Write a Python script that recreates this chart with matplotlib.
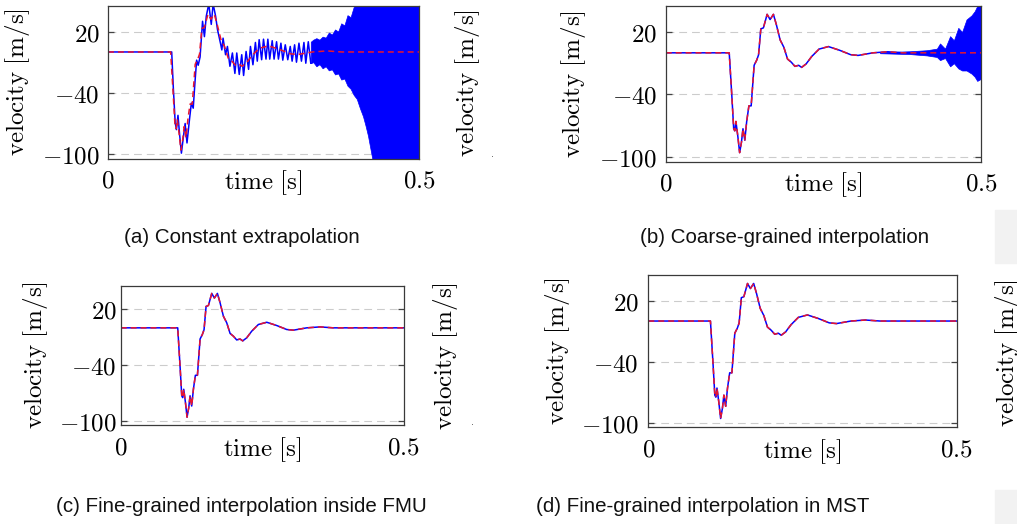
import matplotlib
matplotlib.use('Agg')
import matplotlib.pyplot as plt
from matplotlib.patches import Rectangle

plt.rcParams['mathtext.fontset'] = 'cm'

# reference solution (red dashed)
ref_t = [0, 0.1007, 0.1048, 0.1078, 0.1095, 0.1113, 0.1143, 0.1172, 0.1201, 0.1225,
         0.1254, 0.1284, 0.1319, 0.1355, 0.1402, 0.1443, 0.1472, 0.1508, 0.1549, 0.1608,
         0.1655, 0.1708, 0.1755, 0.1814, 0.1873, 0.1932, 0.1991, 0.2049, 0.2108, 0.2155,
         0.2226, 0.2314, 0.2432, 0.2580, 0.2756, 0.2933, 0.3051, 0.3286, 0.3522, 0.3757,
         0.4111, 0.5]
ref_v = [0, 0, -41, -73, -75, -66, -80, -96, -86, -73,
         -84, -66, -51, -51, -12, -7, -2, 23, 24, 37,
         32, 37, 27, 12.5, 5.4, -6, -9, -13, -12, -14,
         -10.7, -3.6, 3.6, 6, 2.5, -1.8, -2.5, 0, 1, 0,
         0, 0]

# (a) constant extrapolation: blue wiggles (peaks / troughs)
blue_a_t = [0, 0.1024, 0.105, 0.108, 0.110, 0.1125, 0.115, 0.118, 0.121, 0.124,
            0.127, 0.131, 0.134, 0.137, 0.140, 0.1425, 0.145, 0.148, 0.152, 0.155,
            0.158, 0.162, 0.166, 0.169, 0.173, 0.176, 0.181, 0.183, 0.185, 0.189,
            0.192, 0.196, 0.200, 0.204, 0.207, 0.211, 0.215, 0.218, 0.222, 0.226,
            0.229, 0.233, 0.237, 0.240, 0.243, 0.247, 0.250, 0.254, 0.257, 0.260,
            0.264, 0.267, 0.271, 0.274, 0.278, 0.281, 0.285, 0.289, 0.293, 0.296,
            0.300, 0.303, 0.307, 0.311, 0.315, 0.318, 0.322, 0.326]
blue_a_v = [0, 0, -35, -69, -76, -62, -80, -99, -84, -70,
            -89, -66, -50, -55, -28, -8, -13, -5, 30, 15,
            35, 47, 27, 47, 35, 22, 8, 2, 13.5, -2.7,
            5.4, -14, -1, -21, -1, -22, -2.7, -23, 0.5, -17,
            5.4, -12.5, 9.3, -9, 12, -7.6, 12.5, -7, 12.5, -7,
            11, -7, 10, -7, 8.6, -8, 7, -7.6, 5.4, -9,
            7, -10, 8.6, -9, 9.3, -11, 10, -11]
# (a) dense part: jagged envelope of the oscillation
env_a_t = [0.326, 0.330, 0.335, 0.340, 0.345, 0.350, 0.355, 0.360, 0.365, 0.370,
           0.375, 0.380, 0.385, 0.390, 0.395, 0.400, 0.405, 0.410, 0.414, 0.418,
           0.422, 0.426, 0.5]
env_a_hi = [10, 12, 13.5, 12, 15, 14, 19, 17, 22, 20,
            28, 26, 36, 34, 44, 47, 47, 47, 47, 47,
            47, 47, 47]
env_a_lo = [-11, -10, -14, -12, -16, -14, -18, -17, -22, -21,
            -27, -26, -33, -36, -42, -46, -55, -63, -72, -82,
            -95, -108, -108]

# (b) coarse-grained interpolation: growing band at the end
env_b_t = [0.340, 0.387, 0.414, 0.430, 0.435, 0.443, 0.451, 0.457, 0.464, 0.470,
           0.477, 0.485, 0.490, 0.494, 0.5]
env_b_hi = [0.6, 1.5, 2.5, 4, 9, 4, 16, 12, 24, 20, 32, 36, 40, 45, 47]
env_b_lo = [-0.4, -1.2, -2.5, -4, -7, -5, -13, -10, -15, -17, -17, -20, -23, -27, -25]

yticks = [-100, -40, 20]
ytick_labels = ['$-100$', '$-40$', '$20$']
xticks = [0, 0.5]
xtick_labels = ['$0$', '$0.5$']

captions = ['(a) Constant extrapolation', '(b) Coarse-grained interpolation',
            '(c) Fine-grained interpolation inside FMU', '(d) Fine-grained interpolation in MST']

BLUE = '#0000ff'
RED = '#e8162e'
FS = 18


def setup(ax, ypad, xlab_y, ylab_x):
    ax.set_xlim(0, 0.5)
    ax.set_ylim(-104.7, 45.3)
    ax.set_yticks(yticks)
    ax.set_yticklabels(ytick_labels, fontsize=FS)
    ax.set_xticks(xticks)
    ax.set_xticklabels(xtick_labels, fontsize=FS)
    ax.tick_params(axis='y', direction='in', length=4, width=0.9, color='#444444',
                   left=True, right=True, pad=ypad)
    ax.tick_params(axis='x', direction='in', length=0, pad=7)
    ax.yaxis.grid(True, color='#cccccc', lw=0.8, linestyle=(0, (7, 4.5)))
    ax.set_axisbelow(True)
    for s in ax.spines.values():
        s.set_color('#3a3a3a')
        s.set_linewidth(0.9)
    ax.set_xlabel(r'$\mathrm{time\ [s]}$', fontsize=FS)
    ax.xaxis.set_label_coords(0.5, xlab_y)
    ax.set_ylabel(r'$\mathrm{velocity\ [m/s]}$', fontsize=FS)
    ax.yaxis.set_label_coords(ylab_x, 0.5)


fig = plt.figure(figsize=(10.17, 5.24), dpi=100)

ax_a = fig.add_axes([0.1062, 0.6966, 0.3058, 0.2926])
ax_b = fig.add_axes([0.6546, 0.6914, 0.3100, 0.2977])
ax_c = fig.add_axes([0.1187, 0.1884, 0.2783, 0.2664])
ax_d = fig.add_axes([0.6375, 0.1845, 0.3032, 0.2906])

# (a)
ax_a.plot(blue_a_t, blue_a_v, color=BLUE, lw=1.1)
ax_a.fill_between(env_a_t, env_a_lo, env_a_hi, color=BLUE, lw=0.5)
ax_a.plot(ref_t, ref_v, color=RED, lw=1.1, linestyle=(0, (3.9, 2.6)))
setup(ax_a, 6, -0.059, -0.244)

# (b)
ax_b.plot(ref_t, ref_v, color=BLUE, lw=1.1)
ax_b.fill_between(env_b_t, env_b_lo, env_b_hi, color=BLUE, lw=0.5)
ax_b.plot(ref_t, ref_v, color=RED, lw=1.1, linestyle=(0, (3.9, 2.6)))
setup(ax_b, 6, -0.053, -0.246)

# (c)
ax_c.plot(ref_t, ref_v, color=BLUE, lw=1.1)
ax_c.plot(ref_t, ref_v, color=RED, lw=1.1, linestyle=(0, (3.9, 2.6)))
setup(ax_c, 3, -0.07, -0.25)

# (d)
ax_d.plot(ref_t, ref_v, color=BLUE, lw=1.1)
ax_d.plot(ref_t, ref_v, color=RED, lw=1.1, linestyle=(0, (3.9, 2.6)))
setup(ax_d, 7, -0.062, -0.247)

# captions
cap_font = dict(fontfamily='Liberation Sans', fontsize=14.8, ha='center', va='center',
                color='#111111')
fig.text(241.5 / 1017, 1 - 238 / 524, captions[0], **cap_font)
fig.text(785 / 1017, 1 - 238 / 524, captions[1], **cap_font)
fig.text(241.5 / 1017, 1 - 506 / 524, captions[2], **cap_font)
fig.text(703 / 1017, 1 - 506 / 524, captions[3], **cap_font)

# neighbouring sub-figures cut off by the crop
lab = r'$\mathrm{velocity\ [m/s]}$'
fig.text(482 / 1017, 1 - 83 / 524, lab, rotation=90, ha='right', va='center', fontsize=FS)
fig.text(460 / 1017, 1 - 356 / 524, lab, rotation=90, ha='right', va='center', fontsize=FS)
fig.text(993 / 1017, 1 - 353 / 524, lab, rotation=90, ha='left', va='center', fontsize=FS)
fig.text(493 / 1017, 1 - 154 / 524, '.', fontsize=7, color='#555555', ha='center', va='center')
fig.text(472 / 1017, 1 - 422 / 524, '.', fontsize=7, color='#555555', ha='center', va='center')

fig.add_artist(Rectangle((995 / 1017, 1 - 263 / 524), 22 / 1017, 53 / 524,
                         transform=fig.transFigure, color='#f2f2f2', zorder=0))
fig.add_artist(Rectangle((995 / 1017, 0), 22 / 1017, 34 / 524,
                         transform=fig.transFigure, color='#f2f2f2', zorder=0))

fig.savefig('out.png', dpi=100)
